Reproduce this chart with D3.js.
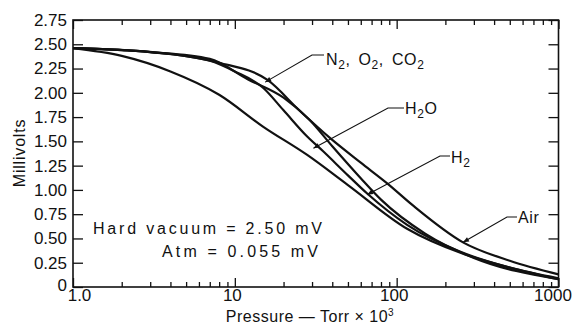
<!DOCTYPE html>
<html>
<head>
<meta charset="utf-8">
<script src="https://cdn.jsdelivr.net/npm/d3@7"></script>
<style>
  body { margin: 0; background: #fff; }
  text { font-family: "Liberation Sans", Arial, sans-serif; fill: #111; }
</style>
</head>
<body>
<div id="the_chart"></div>
<script>
// curve data, pressure in Torr x 10^3 and output in mV
var airP  = [1, 2, 4, 8, 16, 25, 39, 60, 87, 126, 257, 500, 1000];
var airV  = [2.46, 2.44, 2.40, 2.31, 2.13, 1.82, 1.53, 1.28, 1.07, 0.84, 0.46, 0.27, 0.13];
var n2P   = [1, 3, 7, 12, 20, 29, 40, 60, 80, 150, 300, 1000];
var n2V   = [2.46, 2.42, 2.35, 2.14, 1.95, 1.72, 1.45, 1.12, 0.90, 0.55, 0.30, 0.08];
var h2P   = [1, 3, 7, 10, 15, 20, 28, 35, 50, 66, 116, 250, 500, 1000];
var h2V   = [2.46, 2.42, 2.33, 2.22, 2.05, 1.82, 1.55, 1.40, 1.15, 0.96, 0.64, 0.36, 0.20, 0.09];
var h2oP  = [1, 2, 4, 8, 15, 28, 50, 116, 250, 500, 1000];
var h2oV  = [2.46, 2.38, 2.22, 1.98, 1.65, 1.36, 1.05, 0.60, 0.35, 0.20, 0.08];

var yTicks = [0, 0.25, 0.5, 0.75, 1.0, 1.25, 1.5, 1.75, 2.0, 2.25, 2.5, 2.75];
var yTickLabels = ["0", "0.25", "0.50", "0.75", "1.00", "1.25", "1.50", "1.75", "2.00", "2.25", "2.50", "2.75"];
var xMajor = [1, 10, 100, 1000];
var xTickLabels = ["1.0", "10", "100", "1000"];

// where the leader arrows touch the curves (data units)
var tagNames = ["N2,O2,CO2", "H2O", "H2", "Air"];
var tagP = [15.4, 30.6, 65.6, 257];
var tagV = [2.11, 1.43, 0.95, 0.46];

gen_chart();

function gen_chart() {
    var w = 580, h = 334;
    var pl = 73, pr = 558.5, pt = 20, pb = 287;

    var svg = d3.select("#the_chart").append("svg")
        .attr("width", w).attr("height", h);

    svg.append("defs").append("marker")
        .attr("id", "arr")
        .attr("viewBox", "0 0 10 10")
        .attr("refX", 10).attr("refY", 5)
        .attr("markerWidth", 8).attr("markerHeight", 6)
        .attr("markerUnits", "userSpaceOnUse")
        .attr("orient", "auto")
      .append("path").attr("d", "M0,1 L10,5 L0,9 Z").attr("fill", "#111");

    var xscale = d3.scaleLog().domain([1, 1000]).range([pl, pr]);
    var yscale = d3.scaleLinear().domain([0, 2.75]).range([pb, pt]);

    var minor = [];
    [1, 10, 100].forEach(function (d) {
        for (var k = 2; k <= 9; k++) minor.push(d * k);
    });

    function style(g) {
        g.select(".domain").remove();
        g.selectAll("line").attr("stroke", "#111").attr("stroke-width", 1.3);
        g.selectAll("text").attr("font-size", 17).attr("font-family", null).attr("fill", "#111");
    }

    // ticks all point inward
    svg.append("g").attr("transform", "translate(" + pl + ",0)")
        .call(d3.axisLeft(yscale).tickValues(yTicks).tickSize(-10).tickPadding(6)
            .tickFormat(function (d, i) { return yTickLabels[i]; }))
        .call(style)
        .call(function (g) {
            g.selectAll("text").filter(function (d) { return d === 0; }).attr("dy", "0.2em");
        });

    svg.append("g").attr("transform", "translate(" + pr + ",0)")
        .call(d3.axisRight(yscale).tickValues(yTicks).tickSize(-10).tickFormat(""))
        .call(style);

    svg.append("g").attr("transform", "translate(0," + pb + ")")
        .call(d3.axisBottom(xscale).tickValues(minor).tickSize(-5).tickFormat(""))
        .call(style);

    svg.append("g").attr("transform", "translate(0," + pb + ")")
        .call(d3.axisBottom(xscale).tickValues(xMajor).tickSize(-9).tickPadding(2)
            .tickFormat(function (d, i) { return xTickLabels[i]; }))
        .call(style)
        .call(function (g) {
            g.selectAll("text").attr("dx", function (d) {
                return d === 1 ? 6 : (d === 1000 ? -6 : -3);
            });
        });

    svg.append("g").attr("transform", "translate(0," + pt + ")")
        .call(d3.axisTop(xscale).tickValues(minor).tickSize(-5).tickFormat(""))
        .call(style);

    svg.append("g").attr("transform", "translate(0," + pt + ")")
        .call(d3.axisTop(xscale).tickValues(xMajor).tickSize(-9).tickFormat(""))
        .call(style);

    svg.append("rect")
        .attr("x", pl).attr("y", pt)
        .attr("width", pr - pl).attr("height", pb - pt)
        .attr("fill", "none").attr("stroke", "#111").attr("stroke-width", 1.6);

    // curves
    var line = d3.line()
        .x(function (d) { return xscale(d[0]); })
        .y(function (d) { return yscale(d[1]); })
        .curve(d3.curveMonotoneX);

    [[airP, airV], [n2P, n2V], [h2P, h2V], [h2oP, h2oV]].forEach(function (s) {
        svg.append("path")
            .datum(d3.zip(s[0], s[1]))
            .attr("d", line)
            .attr("fill", "none")
            .attr("stroke", "#111")
            .attr("stroke-width", 2.2);
    });

    // leaders: elbow point and label start in pixels
    var tagLayout = [
        {ex: 312, ey: 55, hx: 324, tx: 326, ty: 65},
        {ex: 388, ey: 108, hx: 404, tx: 405, ty: 114},
        {ex: 440, ey: 156, hx: 450, tx: 451, ty: 167},
        {ex: 507, ey: 217, hx: 517, tx: 518, ty: 223}
    ];

    tagNames.forEach(function (name, i) {
        var L = tagLayout[i];
        svg.append("path")
            .attr("d", "M" + L.hx + "," + L.ey + " L" + L.ex + "," + L.ey +
                  " L" + xscale(tagP[i]) + "," + yscale(tagV[i]))
            .attr("fill", "none").attr("stroke", "#111").attr("stroke-width", 1.1)
            .attr("marker-end", "url(#arr)");
    });

    function chem(x, y, parts) {
        var t = svg.append("text").attr("x", x).attr("y", y)
            .attr("font-size", 16).attr("letter-spacing", 0.6);
        parts.forEach(function (p) {
            var ts = t.append("tspan").text(p[0]);
            if (p[1]) ts.attr("font-size", 12).attr("dy", 4);
            else if (p[2]) ts.attr("dy", -4);
        });
        return t;
    }
    chem(tagLayout[0].tx, tagLayout[0].ty, [["N"], ["2", 1], [", O", 0, 1], ["2", 1], [", CO", 0, 1], ["2", 1]])
        .attr("word-spacing", 3);
    chem(tagLayout[1].tx, tagLayout[1].ty, [["H"], ["2", 1], ["O", 0, 1]]);
    chem(tagLayout[2].tx, tagLayout[2].ty - 4, [["H"], ["2", 1]]);
    chem(tagLayout[3].tx, tagLayout[3].ty, [["Air"]]);

    svg.append("text").attr("x", 93).attr("y", 234)
        .attr("font-size", 16).attr("textLength", 229).attr("lengthAdjust", "spacing")
        .text("Hard vacuum = 2.50 mV");
    svg.append("text").attr("x", 162).attr("y", 257)
        .attr("font-size", 16).attr("textLength", 156).attr("lengthAdjust", "spacing")
        .text("Atm = 0.055 mV");

    // axis titles
    var xt = svg.append("text").attr("x", 310).attr("y", 322)
        .attr("text-anchor", "middle").attr("font-size", 16).attr("letter-spacing", 0.5);
    xt.append("tspan").text("Pressure \u2014 Torr \u00d7 10");
    xt.append("tspan").text("3").attr("font-size", 10).attr("dy", -6);

    svg.append("text")
        .attr("transform", "translate(25,153) rotate(-90)")
        .attr("text-anchor", "middle").attr("font-size", 16).attr("letter-spacing", 0.8)
        .text("Millivolts");
}
</script>
</body>
</html>
